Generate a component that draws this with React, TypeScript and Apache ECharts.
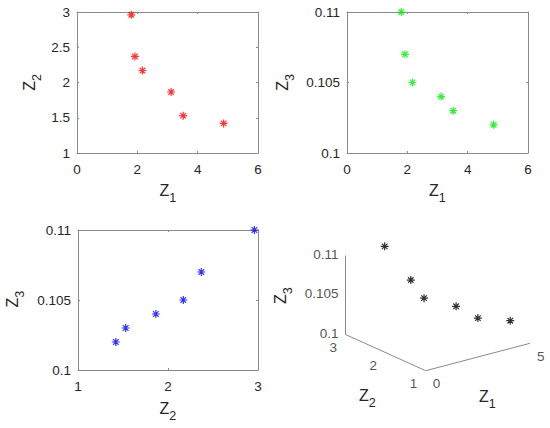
import React, { useEffect, useRef } from 'react';
import * as echarts from 'echarts';

// ---- data ----
const Z1 = [1.8, 1.92, 2.17, 3.12, 3.52, 4.86];
const Z2 = [2.96, 2.37, 2.17, 1.865, 1.53, 1.42];
const Z3 = [0.11, 0.107, 0.105, 0.104, 0.103, 0.102];

const Z1_3D_TICKS = [0, 5];
const Z2_3D_TICKS = [1, 2, 3];
const Z3_3D_TICKS = [0.1, 0.105, 0.11];

const FONT = 'Liberation Sans, Arial, sans-serif';
const TXT = '#262626';
const AX = '#8a8a8a';
const TICK_FS = 13.5;

const STAR = 'path://M5 0L5 10M0 5L10 5M1.5 1.5L8.5 8.5M1.5 8.5L8.5 1.5';

// 3D projection (pixel frame of the hidden grid)
const O = [425.7, 370.7]; // (Z1=0, Z2=1, Z3=0.1)
const E1 = [20.86, -5.48];
const E2 = [-40.1, -18.1];
const E3 = [0, -7900];
function proj(a: number, b: number, c: number): number[] {
  return [
    O[0] + a * E1[0] + (b - 1) * E2[0] + (c - 0.1) * E3[0],
    O[1] + a * E1[1] + (b - 1) * E2[1] + (c - 0.1) * E3[1],
  ];
}

// axis title "Z" with subscript; (x, y) = centre of the Z glyph
function title(x: number, y: number, sub: string, rotated: boolean) {
  return {
    type: 'group',
    x,
    y,
    rotation: rotated ? Math.PI / 2 : 0,
    children: [
      {
        type: 'text', x: 0, y: 0,
        style: { text: 'Z', fontFamily: FONT, fontSize: 16, fill: TXT, align: 'center', verticalAlign: 'middle' },
      },
      {
        type: 'text', x: 8.3, y: 7.5,
        style: { text: sub, fontFamily: FONT, fontSize: 12.5, fill: TXT, align: 'center', verticalAlign: 'middle' },
      },
    ],
  };
}

function axisPair(gridIndex: number, min: number, max: number, interval: number, isX: boolean) {
  const main: any = {
    type: 'value',
    gridIndex,
    min,
    max,
    interval,
    position: isX ? 'bottom' : 'left',
    axisLine: { show: true, onZero: false, lineStyle: { color: AX, width: 1 } },
    axisTick: { show: true, inside: true, length: 2, lineStyle: { color: AX } },
    axisLabel: { show: true, fontFamily: FONT, fontSize: TICK_FS, color: TXT, margin: isX ? 9 : 7 },
    splitLine: { show: false },
  };
  const sec: any = {
    type: 'value',
    gridIndex,
    min,
    max,
    interval,
    position: isX ? 'top' : 'right',
    axisLine: { show: true, onZero: false, lineStyle: { color: AX, width: 1 } },
    axisTick: { show: true, inside: true, length: 2, lineStyle: { color: AX } },
    axisLabel: { show: false },
    splitLine: { show: false },
  };
  return [main, sec];
}

export default function App() {
  const ref = useRef<HTMLDivElement>(null);
  useEffect(() => {
    document.body.style.margin = '0';
    if (!ref.current) return;
    const chart = echarts.init(ref.current, undefined, { renderer: 'svg' });

    const xAxes = [
      ...axisPair(0, 0, 6, 2, true),
      ...axisPair(1, 0, 6, 2, true),
      ...axisPair(2, 1, 3, 1, true),
      { type: 'value', gridIndex: 3, min: 0, max: 550, show: false },
    ];
    const yAxes = [
      ...axisPair(0, 1, 3, 0.5, false),
      ...axisPair(1, 0.1, 0.11, 0.005, false),
      ...axisPair(2, 0.1, 0.11, 0.005, false),
      { type: 'value', gridIndex: 3, min: 0, max: 428, inverse: true, show: false },
    ];

    const star = (color: string) => ({
      symbol: STAR,
      symbolSize: 8,
      itemStyle: { color, borderColor: color, borderWidth: 1.2 },
    });

    const tickLabel = (offset: number[], position: any, distance?: number) => ({
      show: true,
      formatter: '{b}',
      fontFamily: FONT,
      fontSize: TICK_FS,
      color: TXT,
      position,
      distance,
      offset,
      align: position === 'left' ? 'right' : 'center',
      verticalAlign: 'middle',
    });

    const option: any = {
      animation: false,
      grid: [
        { left: 77, top: 12, width: 181, height: 141 },
        { left: 347, top: 12, width: 181, height: 141 },
        { left: 78, top: 230, width: 180, height: 140 },
        { left: 0, top: 0, width: 550, height: 428 },
      ],
      xAxis: xAxes,
      yAxis: yAxes,
      series: [
        {
          type: 'scatter', xAxisIndex: 0, yAxisIndex: 0,
          data: Z1.map((v, i) => [v, Z2[i]]), ...star('#ff0000'),
        },
        {
          type: 'scatter', xAxisIndex: 2, yAxisIndex: 2,
          data: Z1.map((v, i) => [v, Z3[i]]), ...star('#00ee00'),
        },
        {
          type: 'scatter', xAxisIndex: 4, yAxisIndex: 4,
          data: Z2.map((v, i) => [v, Z3[i]]), ...star('#0000ff'),
        },
        // 3D box axes
        {
          type: 'line', xAxisIndex: 6, yAxisIndex: 6, symbol: 'none',
          lineStyle: { color: AX, width: 1 },
          data: [proj(0, 3, 0.11), proj(0, 3, 0.1), proj(0, 1, 0.1), proj(5, 1, 0.1)],
          silent: true,
        },
        // 3D points
        {
          type: 'scatter', xAxisIndex: 6, yAxisIndex: 6,
          data: Z1.map((v, i) => proj(v, Z2[i], Z3[i])), ...star('#000000'),
        },
        // 3D tick labels
        {
          type: 'scatter', xAxisIndex: 6, yAxisIndex: 6, symbolSize: 0,
          itemStyle: { color: TXT },
          data: Z3_3D_TICKS.map((v) => ({ value: proj(0, 3, v), name: String(v) })),
          label: tickLabel([0, -1.5], 'left', 7),
        },
        {
          type: 'scatter', xAxisIndex: 6, yAxisIndex: 6, symbolSize: 0,
          itemStyle: { color: TXT },
          data: Z2_3D_TICKS.map((v) => ({ value: proj(0, v, 0.1), name: String(v) })),
          label: tickLabel([-12.3, 13], 'inside'),
        },
        {
          type: 'scatter', xAxisIndex: 6, yAxisIndex: 6, symbolSize: 0,
          itemStyle: { color: TXT },
          data: Z1_3D_TICKS.map((v) => ({ value: proj(v, 1, 0.1), name: String(v) })),
          label: tickLabel([10.8, 13], 'inside'),
        },
      ],
      graphic: [
        title(164.5, 190.8, '1', false),
        title(434, 190.8, '1', false),
        title(164.3, 408.2, '2', false),
        title(363.8, 395.8, '2', false),
        title(484, 396, '1', false),
        title(29.7, 85.8, '2', true),
        title(282.5, 85.8, '3', true),
        title(12.5, 302.7, '3', true),
        title(280.3, 299, '3', true),
      ],
    };
    chart.setOption(option);
    return () => chart.dispose();
  }, []);
  return <div ref={ref} style={{ width: 550, height: 428 }} />;
}
